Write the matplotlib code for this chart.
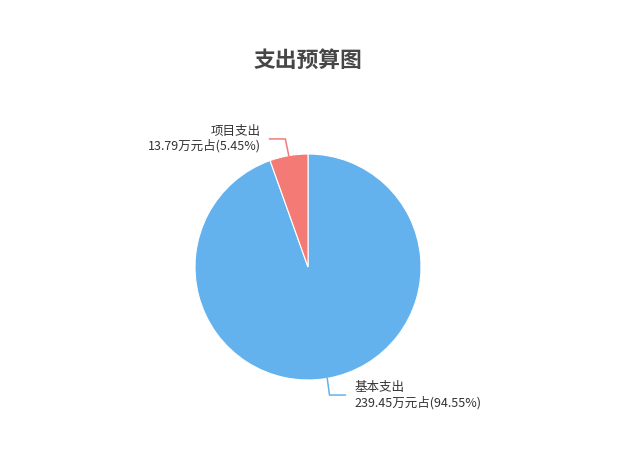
import matplotlib
matplotlib.use("Agg")
import matplotlib.pyplot as plt
import numpy as np

plt.rcParams['font.family'] = ['Noto Sans CJK SC', 'DejaVu Sans']

title = "支出预算图"
categories = ["基本支出", "项目支出"]
values = [239.45, 13.79]
percents = ["94.55%", "5.45%"]
colors = ["#63b2ee", "#f47a75"]

W, H = 622, 451
fig = plt.figure(figsize=(W / 100, H / 100), dpi=100)
cx, cy, r = 308, 267, 113
ax = fig.add_axes([(cx - r) / W, (H - cy - r) / H, 2 * r / W, 2 * r / H])

wedges, _ = ax.pie(values, colors=colors, startangle=90, counterclock=False,
                   radius=1.0, wedgeprops=dict(edgecolor='white', linewidth=0.8))
ax.set_xlim(-1, 1)
ax.set_ylim(-1, 1)
ax.set_aspect('equal')
ax.axis('off')

fig.text(cx / W, 1 - 60 / H, title, ha='center', va='center', fontsize=15.7,
         fontweight='bold', color='#464646')

for i, w in enumerate(wedges):
    ang = np.deg2rad((w.theta1 + w.theta2) / 2)
    x0, y0 = np.cos(ang), np.sin(ang)
    side = -1 if x0 < 0 else 1
    x1, y1 = x0 + side * 0.02 - 0.0, 1.15 * y0
    if side < 0:
        x1 = x0 - 0.03
    else:
        x1 = x0 + 0.02
    x2 = x1 + side * 0.14
    ax.plot([x0, x1, x2], [y0, y1, y1], color=colors[i], lw=1.1, clip_on=False)
    label = f"{categories[i]}\n{values[i]:.2f}万元占({percents[i]})"
    ax.text(x2 + side * 0.08, y1, label, ha='left' if side > 0 else 'right',
            va='center', fontsize=9, color='#333333', linespacing=1.15,
            multialignment='left' if side > 0 else 'right', clip_on=False)

fig.savefig("out.png", dpi=100, facecolor='white')
